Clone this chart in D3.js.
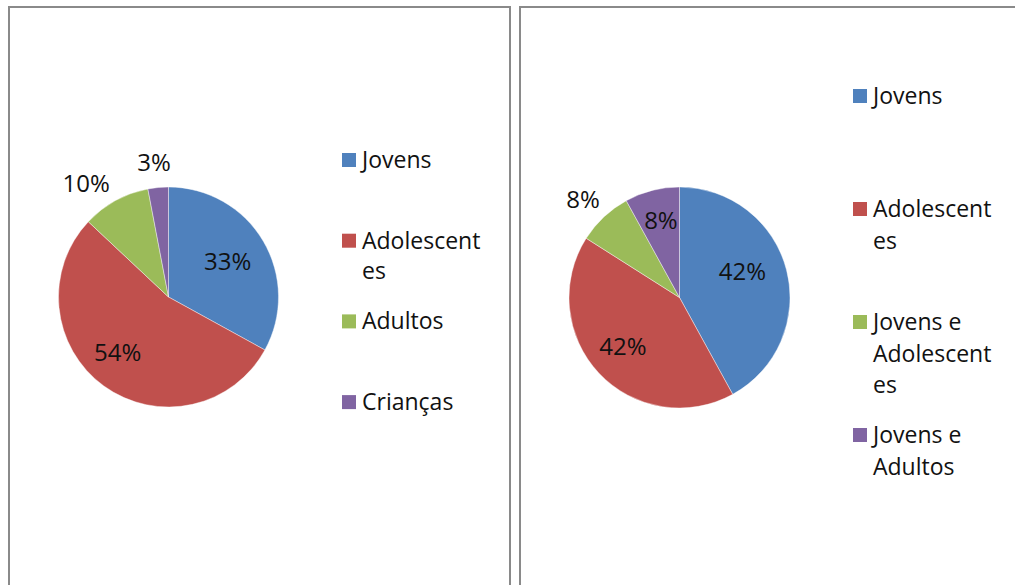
<!DOCTYPE html>
<html>
<head>
<meta charset="utf-8">
<script src="https://cdn.jsdelivr.net/npm/d3@7/dist/d3.min.js"></script>
<style>
  html, body { margin: 0; padding: 0; background: #fff; }
  svg { display: block; }
  text { font-family: "Open Sans", sans-serif; fill: #111; }
</style>
</head>
<body>
<svg id="chart" width="1015" height="585"></svg>
<script>
// Público por faixa etária (gráfico 1) e público-alvo das ações (gráfico 2)
const categoriesA = ["Jovens", "Adolescentes", "Adultos", "Crianças"];
const valuesA = [33, 54, 10, 3];

const categoriesB = ["Jovens", "Adolescentes", "Jovens e Adolescentes", "Jovens e Adultos"];
const valuesB = [42, 42, 8, 8];

const sliceColors = ["#4F81BD", "#C0504D", "#9BBB59", "#8064A2"];

const svg = d3.select("#chart");

// layout of each panel: frame, pie, label placement and legend
const panels = [
  {
    categories: categoriesA, values: valuesA,
    frame: { x: 9, y: 7, w: 501, h: 700 },
    cx: 168.5, cy: 297, r: 110,
    labelPlacement: ["inside", "inside", "outside", "outside"],
    labelNudge: [[-1.5, 0], [-9.5, -2], [-16, 7], [-1.5, 2]],
    legend: { x: 342, firstBaseline: 168, slot: 80.7, lineHeight: 30, maxWidth: 125 }
  },
  {
    categories: categoriesB, values: valuesB,
    frame: { x: 520, y: 7, w: 600, h: 700 },
    cx: 679.5, cy: 297.5, r: 110.5,
    labelPlacement: ["inside", "inside", "outside", "inside"],
    labelNudge: [[-5.5, -8.5], [-5, 0.5], [-2, 3], [-1, -9]],
    legend: { x: 853, firstBaseline: 104, slot: 113, lineHeight: 31.5, maxWidth: 125 }
  }
];

// break text into lines that fit maxWidth; words longer than a line are split by characters
function wrapLines(textSel, str, maxWidth) {
  const measure = s => { textSel.text(s); return textSel.node().getComputedTextLength(); };
  const words = str.split(" ");
  const lines = [];
  let current = "";
  words.forEach(w => {
    const trial = current ? current + " " + w : w;
    if (measure(trial) <= maxWidth) { current = trial; return; }
    if (current) lines.push(current);
    current = "";
    let piece = "";
    for (const ch of w) {
      if (measure(piece + ch) <= maxWidth) piece += ch;
      else { lines.push(piece); piece = ch; }
    }
    current = piece;
  });
  if (current) lines.push(current);
  textSel.text(null);
  return lines;
}

panels.forEach(p => {
  svg.append("rect")
    .attr("x", p.frame.x).attr("y", p.frame.y)
    .attr("width", p.frame.w).attr("height", p.frame.h)
    .attr("fill", "#fff")
    .attr("stroke", "#8a8a8a")
    .attr("stroke-width", 2);

  const total = d3.sum(p.values);
  const pie = d3.pie().sort(null).value(d => d);
  const arcs = pie(p.values);
  const arc = d3.arc().innerRadius(0).outerRadius(p.r);
  const inLabel = d3.arc().innerRadius(p.r * 0.64).outerRadius(p.r * 0.64);
  const outLabel = d3.arc().innerRadius(p.r * 1.25).outerRadius(p.r * 1.25);

  const g = svg.append("g").attr("transform", `translate(${p.cx},${p.cy})`);

  g.selectAll("path.slice")
    .data(arcs)
    .join("path")
    .attr("class", "slice")
    .attr("d", arc)
    .attr("fill", (d, i) => sliceColors[i])
    .attr("stroke", "rgba(255,255,255,0.6)")
    .attr("stroke-width", 0.7);

  g.selectAll("text.pct")
    .data(arcs)
    .join("text")
    .attr("class", "pct")
    .attr("transform", (d, i) => {
      const c = (p.labelPlacement[i] === "inside" ? inLabel : outLabel).centroid(d);
      const n = p.labelNudge[i];
      return `translate(${c[0] + n[0]},${c[1] + n[1]})`;
    })
    .attr("text-anchor", "middle")
    .attr("dy", "0.36em")
    .style("font-size", "24px")
    .text(d => Math.round(d.data / total * 100) + "%");

  // legend
  const lg = svg.append("g");
  p.categories.forEach((name, i) => {
    const base = p.legend.firstBaseline + i * p.legend.slot;
    lg.append("rect")
      .attr("x", p.legend.x).attr("y", base - 15)
      .attr("width", 14).attr("height", 14)
      .attr("fill", sliceColors[i]);
    const t = lg.append("text")
      .attr("x", p.legend.x + 20)
      .attr("y", base)
      .style("font-size", "23px");
    const lines = wrapLines(t, name, p.legend.maxWidth);
    lines.forEach((ln, k) => {
      t.append("tspan")
        .attr("x", p.legend.x + 20)
        .attr("y", base + k * p.legend.lineHeight)
        .text(ln);
    });
  });
});
</script>
</body>
</html>
